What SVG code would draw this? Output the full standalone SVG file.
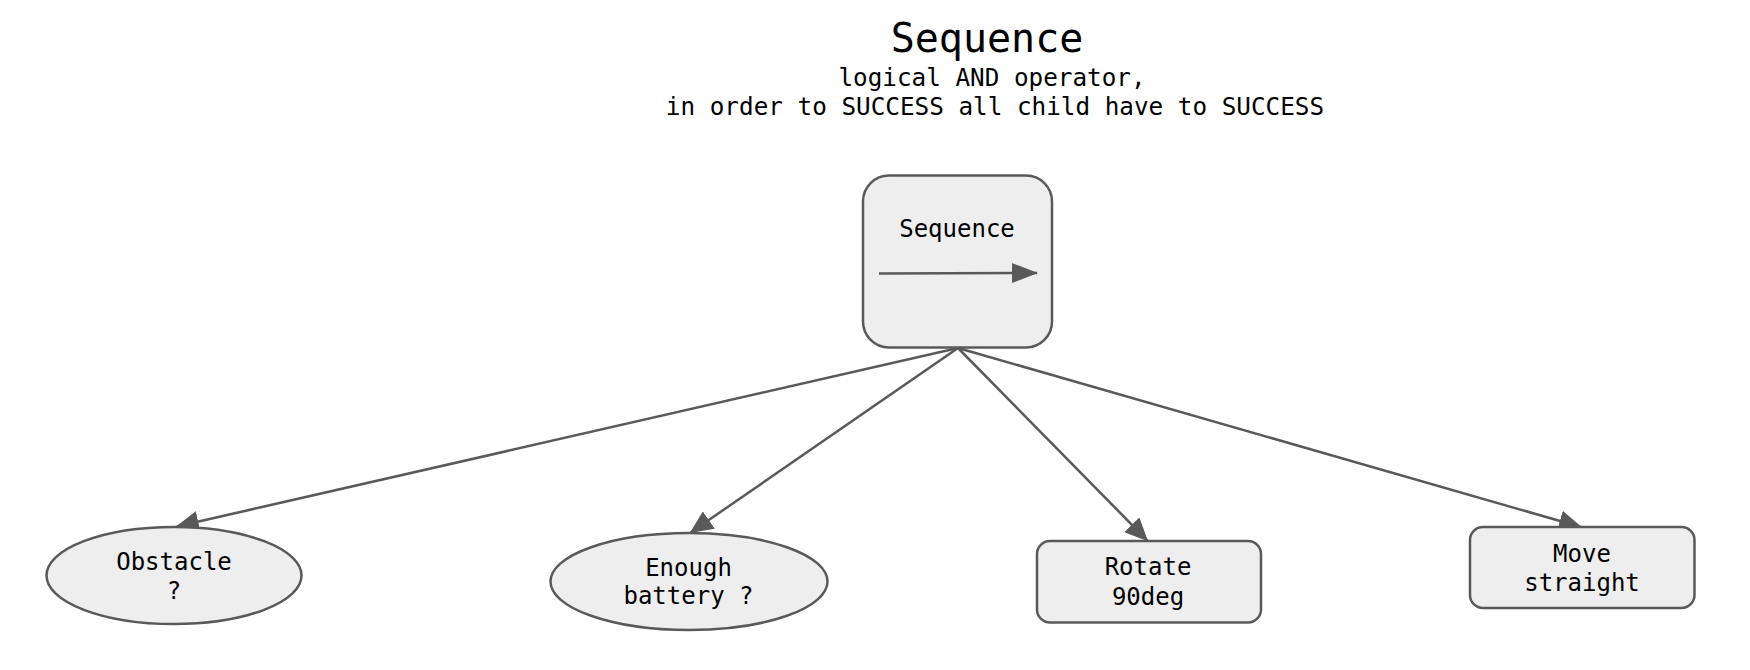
<svg xmlns="http://www.w3.org/2000/svg" width="1750" height="670" viewBox="0 0 1750 670">
<style>
  .t { font-family: "DejaVu Sans Mono", "Liberation Mono", monospace; fill: #000; text-anchor: middle; }
  .node { fill: #eeeeee; stroke: #595959; stroke-width: 2.5; }
  .edge { stroke: #595959; stroke-width: 2.5; fill: none; }
</style>
<defs>
  <marker id="arr" markerUnits="userSpaceOnUse" markerWidth="23" markerHeight="21" refX="22" refY="10.5" orient="auto">
    <path d="M0,0 L23,10.5 L0,21 Z" fill="#595959"/>
  </marker>
  <marker id="arrBig" markerUnits="userSpaceOnUse" markerWidth="26" markerHeight="22" refX="25" refY="11" orient="auto">
    <path d="M0,1 L26,11 L0,21 Z" fill="#595959"/>
  </marker>
</defs>
<rect width="1750" height="670" fill="#ffffff"/>
<g id="title">
  <text class="t" x="987" y="52" font-size="40">Sequence</text>
  <text class="t" x="992" y="86" font-size="24.3">logical AND operator,</text>
  <text class="t" x="995" y="115" font-size="24.3">in order to SUCCESS all child have to SUCCESS</text>
</g>
<g id="connectors">
  <line class="edge" x1="958" y1="348" x2="176.7" y2="526.5" marker-end="url(#arr)"/>
  <line class="edge" x1="958" y1="348" x2="690.7" y2="532.5" marker-end="url(#arr)"/>
  <line class="edge" x1="958" y1="348" x2="1147.3" y2="540.5" marker-end="url(#arr)"/>
  <line class="edge" x1="958" y1="348" x2="1581" y2="527" marker-end="url(#arr)"/>
</g>
<g id="sequence">
  <rect class="node" x="863" y="175.5" width="189" height="172" rx="26" ry="26"/>
  <text class="t" x="957" y="237" font-size="24">Sequence</text>
  <line class="edge" x1="879" y1="273.5" x2="1037" y2="273" marker-end="url(#arrBig)"/>
</g>
<g id="obstacle">
  <ellipse class="node" cx="174" cy="575.5" rx="127.5" ry="48.5"/>
  <text class="t" x="174" y="570" font-size="24">Obstacle</text>
  <text class="t" x="174" y="599" font-size="24">?</text>
</g>
<g id="battery">
  <ellipse class="node" cx="689" cy="581.5" rx="138.5" ry="48.5"/>
  <text class="t" x="688.5" y="576" font-size="24">Enough</text>
  <text class="t" x="688.5" y="604" font-size="24">battery ?</text>
</g>
<g id="rotate">
  <rect class="node" x="1037" y="541" width="224" height="81.5" rx="13" ry="13"/>
  <text class="t" x="1148" y="575" font-size="24">Rotate</text>
  <text class="t" x="1148" y="605" font-size="24">90deg</text>
</g>
<g id="move">
  <rect class="node" x="1470" y="527" width="224.5" height="81" rx="13" ry="13"/>
  <text class="t" x="1582" y="562" font-size="24">Move</text>
  <text class="t" x="1582" y="591" font-size="24">straight</text>
</g>
</svg>
